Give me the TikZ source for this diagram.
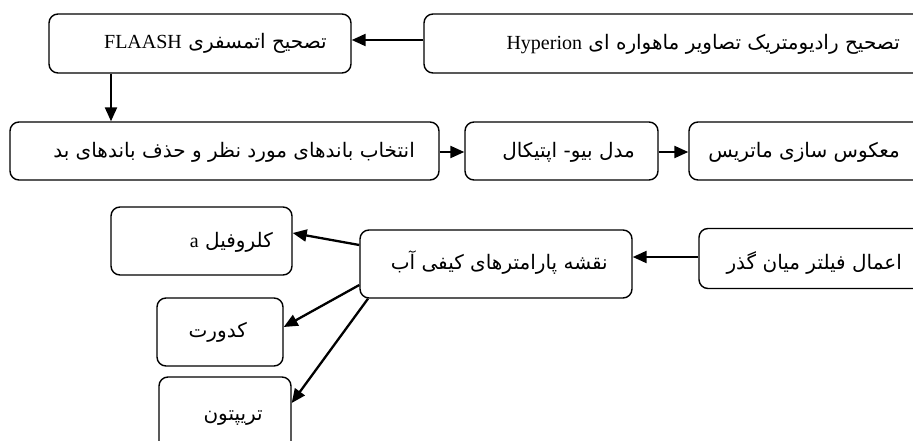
\documentclass[tikz,border=0pt]{standalone}
\usepackage{fontspec}
\setmainfont{Liberation Serif}
\newfontfamily\fafont[Script=Arabic]{DejaVu Sans}
\newfontfamily\latfont{Liberation Serif}
\TeXXeTstate=1
\usetikzlibrary{arrows.meta}
\begin{document}
\begin{tikzpicture}[x=1pt,y=-1pt,
  box/.style={draw=black,line width=1.4pt,rounded corners=9pt,inner sep=0pt},
  arr/.style={line width=2.3pt,-{Triangle[length=14pt,width=12pt]}},
  fa/.style={anchor=east,inner sep=0pt,font=\fafont\fontsize{20}{24}\selectfont},
  lt/.style={anchor=base east,inner sep=0pt,font=\latfont\fontsize{20}{24}\selectfont}]
\useasboundingbox (0,0) rectangle (913,441);
\clip (0,0) rectangle (913,441);
% boxes
\node[box,minimum width=516pt,minimum height=59pt] (A) at (682,43.5) {};
\node[box,minimum width=302pt,minimum height=59pt] (B) at (200,43.5) {};
\node[box,minimum width=429pt,minimum height=58pt] (C) at (224.5,151) {};
\node[box,minimum width=193pt,minimum height=58pt] (D) at (561.5,151) {};
\node[box,minimum width=251pt,minimum height=58pt] (E) at (814.5,151) {};
\node[box,minimum width=241pt,minimum height=60pt] (F) at (819.5,258.5) {};
\node[box,minimum width=272pt,minimum height=68pt] (G) at (496,264) {};
\node[box,minimum width=181pt,minimum height=68pt] (H) at (201.5,241) {};
\node[box,minimum width=126pt,minimum height=68pt] (I) at (220,332) {};
\node[box,minimum width=132pt,minimum height=83pt] (J) at (225,418.5) {};
% texts
\node[fa] (tA) at (900,44) {\beginR تصحیح رادیومتریک تصاویر ماهواره ای\endR};
\node[lt] (lA) at ([xshift=-6pt]tA.base west) {Hyperion};
\node[fa] (tB) at (327,43) {\beginR تصحیح اتمسفری\endR};
\node[lt] (lB) at ([xshift=-6pt]tB.base west) {FLAASH};
\node[fa] (tC) at (415,152) {\beginR انتخاب باندهای مورد نظر و حذف باندهای بد\endR};
\node[fa] (tD) at (635,152) {\beginR مدل بیو- اپتیکال\endR};
\node[fa] (tE) at (900,152) {\beginR معکوس سازی ماتریس\endR};
\node[fa] (tF) at (902,263) {\beginR اعمال فیلتر میان گذر\endR};
\node[fa] (tG) at (608,263) {\beginR نقشه پارامترهای کیفی آب\endR};
\node[fa] (tH) at (273,242) {\beginR کلروفیل\endR};
\node[lt] (lH) at ([xshift=-6pt]tH.base west) {a};
\node[fa] (tI) at (247,332) {\beginR کدورت\endR};
\node[fa] (tJ) at (263,418) {\beginR تریپتون\endR};
% connectors
\draw[arr] ([yshift=3.5pt]A.west) -- ([yshift=3.5pt]B.east);
\draw[arr] ([xshift=-89pt]B.south) -- ([xshift=-89pt]B.south |- C.north);
\draw[arr] ([yshift=-1pt]C.east) -- ([yshift=-1pt]D.west);
\draw[arr] ([yshift=-1pt]D.east) -- ([yshift=-1pt]E.west);
\draw[arr] ([yshift=1.5pt]F.west) -- ([yshift=1.5pt]F.west -| G.east);
\draw[arr] ([yshift=19pt]G.west) -- ([yshift=8pt]H.east);
\draw[arr] ([yshift=-21pt]G.west) -- ([yshift=5pt]I.east);
\draw[arr] ([xshift=-128pt]G.south) -- ([yshift=15.5pt]J.east);
\end{tikzpicture}
\end{document}
